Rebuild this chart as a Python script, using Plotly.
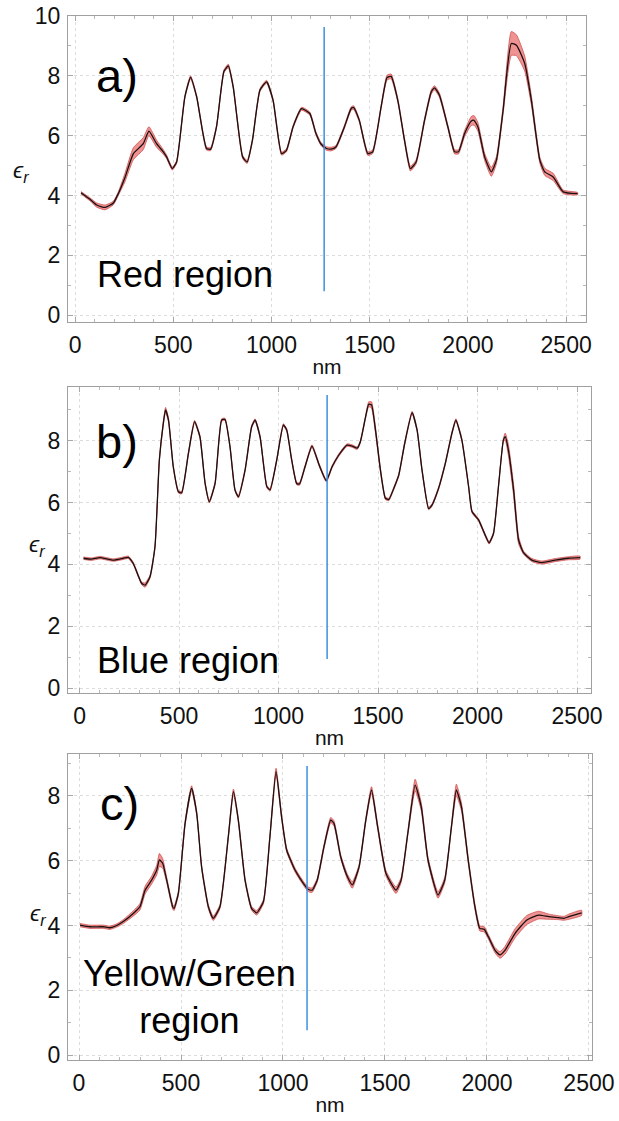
import plotly.graph_objects as go

W, H = 619, 1121

# ---------------- data ----------------
nm_a = [30, 76, 110, 153, 195, 220, 254, 297, 347, 376, 415, 449, 466, 495, 517, 559, 588, 619,
        669, 690, 720, 758, 780, 805, 853, 876, 903, 941, 975, 1008, 1051, 1076, 1110, 1153, 1195,
        1225, 1252, 1280, 1303, 1328, 1371, 1405, 1418, 1447, 1490, 1515, 1558, 1588, 1609, 1643,
        1677, 1707, 1736, 1779, 1813, 1830, 1855, 1898, 1932, 1952, 1983, 2017, 2031, 2051, 2085,
        2119, 2145, 2179, 2221, 2247, 2289, 2323, 2366, 2391, 2434, 2485, 2558]
eps_a = [4.09, 3.87, 3.68, 3.6, 3.75, 4.06, 4.6, 5.4, 5.73, 6.15, 5.73, 5.46, 5.29, 4.9, 5.12, 7.3, 7.95, 7.3,
         5.57, 5.55, 6.3, 8.15, 8.33, 7.63, 5.29, 5.12, 5.85, 7.52, 7.8, 7.18, 5.4, 5.51, 6.3, 6.9, 6.74,
         6.1, 5.72, 5.57, 5.55, 5.62, 6.29, 6.9, 6.94, 6.51, 5.4, 5.46, 6.96, 7.94, 7.98, 7.18,
         5.85, 4.9, 5.12, 6.51, 7.46, 7.6, 7.35, 6.29, 5.46, 5.46, 6.07, 6.49, 6.51, 6.29, 5.29,
         4.79, 5.18, 6.85, 9.08, 9.02, 8.41, 7.18, 5.18, 4.79, 4.62, 4.12, 4.06]
err_a = [0.04, 0.05, 0.07, 0.08, 0.06, 0.06, 0.14, 0.2, 0.2, 0.15, 0.12, 0.08, 0.06, 0.05, 0.05, 0.04, 0.05, 0.04,
         0.05, 0.05, 0.04, 0.05, 0.06, 0.05, 0.05, 0.05, 0.04, 0.05, 0.05, 0.05, 0.05, 0.05, 0.04, 0.05, 0.05,
         0.05, 0.05, 0.06, 0.06, 0.05, 0.05, 0.06, 0.06, 0.05, 0.06, 0.06, 0.05, 0.08, 0.08, 0.06,
         0.06, 0.08, 0.07, 0.06, 0.07, 0.07, 0.07, 0.06, 0.07, 0.07, 0.1, 0.15, 0.16, 0.14, 0.12,
         0.15, 0.12, 0.12, 0.4, 0.35, 0.25, 0.15, 0.1, 0.12, 0.12, 0.06, 0.04]

nm_b = [20, 60, 103, 170, 220, 245, 270, 312, 329, 354, 379, 401, 421, 432, 447, 471, 497, 513, 547, 578,
        605, 631, 652, 681, 714, 731, 756, 781, 798, 832, 865, 882, 907, 941, 957, 991, 1024, 1041, 1066,
        1091, 1105, 1133, 1168, 1205, 1240, 1269, 1303, 1344, 1370, 1395, 1411, 1436, 1453, 1467, 1487,
        1512, 1537, 1554, 1579, 1604, 1634, 1671, 1696, 1721, 1754, 1771, 1804, 1838, 1871, 1891, 1921,
        1955, 1972, 2005, 2038, 2058, 2080, 2105, 2130, 2139, 2155, 2181, 2206, 2231, 2273, 2323, 2390,
        2457, 2515]
eps_b = [4.2, 4.17, 4.22, 4.14, 4.2, 4.23, 4.03, 3.39, 3.33, 3.6, 4.57, 7.38, 8.57, 9.0, 8.67, 7.16, 6.35, 6.32,
         7.59, 8.62, 8.13, 6.62, 6.03, 6.62, 8.67, 8.69, 7.81, 6.41, 6.19, 7.06, 8.46, 8.67, 8.13, 6.52, 6.41,
         7.38, 8.51, 8.35, 7.38, 6.62, 6.6, 7.16, 7.83, 7.2, 6.71, 7.16, 7.54, 7.86, 7.83, 7.76, 7.97, 8.73,
         9.18, 9.16, 8.35, 7.05, 6.14, 6.1, 6.46, 6.89, 7.92, 8.91, 8.35, 7.05, 5.81, 5.92, 6.46, 7.27, 8.24,
         8.67, 8.03, 6.52, 5.71, 5.44, 4.95, 4.7, 5.0, 6.52, 8.03, 8.13, 7.7, 6.41, 4.79, 4.38, 4.14, 4.06,
         4.14, 4.2, 4.22]
err_b = [0.04] * 8 + [0.07, 0.05] + [0.04] * 2 + [0.06, 0.08, 0.06] + [0.04] * 37 + [0.08, 0.1, 0.1, 0.06] \
        + [0.04] * 23 + [0.12, 0.18, 0.18, 0.12] + [0.05] * 9

nm_c = [5, 54, 119, 152, 185, 217, 266, 299, 324, 356, 381, 394, 410, 430, 459, 466, 487, 520, 552, 577,
        601, 634, 658, 691, 732, 757, 781, 814, 846, 871, 904, 936, 966, 993, 1018, 1059, 1100, 1125, 1143,
        1168, 1201, 1234, 1250, 1283, 1316, 1340, 1373, 1406, 1434, 1464, 1505, 1554, 1579, 1612, 1648,
        1678, 1711, 1760, 1793, 1826, 1850, 1875, 1908, 1941, 1965, 1987, 2007, 2039, 2064, 2089, 2138,
        2196, 2253, 2303, 2350, 2377, 2401, 2464]
eps_c = [4.01, 3.96, 3.96, 3.93, 4.0, 4.12, 4.37, 4.58, 5.09, 5.4, 5.71, 6.02, 5.92, 5.4, 4.58, 4.53, 4.99,
         7.15, 8.23, 7.46, 5.81, 4.58, 4.22, 4.58, 6.74, 8.13, 7.25, 5.4, 4.53, 4.39, 4.73, 6.74, 8.75, 7.36,
         6.33, 5.71, 5.3, 5.11, 5.09, 5.4, 6.43, 7.25, 7.15, 6.12, 5.5, 5.25, 5.81, 7.25, 8.18, 7.05, 5.61,
         5.09, 5.4, 6.84, 8.33, 7.66, 6.02, 4.94, 5.4, 7.05, 8.18, 7.66, 6.02, 4.58, 3.91, 3.88, 3.65, 3.24,
         3.09, 3.24, 3.76, 4.17, 4.32, 4.27, 4.24, 4.22, 4.27, 4.39]
err_c = [0.05, 0.05, 0.05, 0.05, 0.05, 0.06, 0.08, 0.1, 0.12, 0.12, 0.15, 0.2, 0.15, 0.08, 0.07, 0.07, 0.06,
         0.06, 0.08, 0.06, 0.05, 0.06, 0.07, 0.06, 0.05, 0.08, 0.06, 0.05, 0.06, 0.07, 0.06, 0.05, 0.1, 0.06,
         0.06, 0.06, 0.06, 0.07, 0.07, 0.06, 0.06, 0.08, 0.08, 0.06, 0.08, 0.1, 0.06, 0.06, 0.1, 0.07, 0.08,
         0.1, 0.08, 0.06, 0.18, 0.12, 0.08, 0.1, 0.08, 0.06, 0.18, 0.12, 0.08, 0.08, 0.08, 0.08, 0.07, 0.08,
         0.1, 0.12, 0.14, 0.14, 0.12, 0.08, 0.06, 0.06, 0.08, 0.08]

marker_nm = [1268, 1244, 1118]
marker_lo = [0.8, 0.94, 0.77]
marker_hi = [9.63, 9.48, 8.92]

panel_letters = ["a)", "b)", "c)"]
region_names = ["Red region", "Blue region", "Yellow/Green<br>region"]
x_title = "nm"
y_title = "ϵ<sub>r</sub>"
x_ticks = [0, 500, 1000, 1500, 2000, 2500]
y_ticks_a = [0, 2, 4, 6, 8, 10]
y_ticks_bc = [0, 2, 4, 6, 8]

# ---------------- layout geometry (pixels) ----------------
frames = [  # left, top, right, bottom
    (68, 16, 586, 322),
    (68, 387, 591, 693),
    (68, 754, 592, 1060),
]
x_ranges = [[-36, 2601], [-58, 2570], [-54, 2515]]
y_ranges = [[-0.23, 10.0], [-0.16, 9.74], [-0.15, 9.29]]

FONT = "Liberation Sans, Arial, sans-serif"

fig = go.Figure()
datasets = [(nm_a, eps_a, err_a), (nm_b, eps_b, err_b), (nm_c, eps_c, err_c)]

for i, (xs, ys, es) in enumerate(datasets):
    xa = "x" if i == 0 else f"x{i+1}"
    ya = "y" if i == 0 else f"y{i+1}"
    up = [y + e for y, e in zip(ys, es)]
    lo = [y - e for y, e in zip(ys, es)]
    fig.add_trace(go.Scatter(
        x=xs + xs[::-1], y=up + lo[::-1], xaxis=xa, yaxis=ya,
        fill="toself", fillcolor="rgba(232,110,110,0.75)",
        line=dict(color="rgba(205,70,70,0.9)", width=0.8, shape="spline", smoothing=0.5),
        mode="lines", hoverinfo="skip", showlegend=False))
    fig.add_trace(go.Scatter(
        x=xs, y=ys, xaxis=xa, yaxis=ya, mode="lines",
        line=dict(color="#1b1010", width=1.3, shape="spline", smoothing=0.5),
        showlegend=False))
    fig.add_trace(go.Scatter(
        x=[marker_nm[i], marker_nm[i]], y=[marker_lo[i], marker_hi[i]], xaxis=xa, yaxis=ya,
        mode="lines", line=dict(color="#3d8fe0", width=1.5), showlegend=False))

    l, t, r, b = frames[i]
    common = dict(showline=True, linecolor="#a0a0a0", linewidth=1, mirror="allticks",
                  ticks="inside", ticklen=5, tickcolor="#a8a8a8", automargin=False,
                  showgrid=True, gridcolor="#dcdcdc", griddash="dot", gridwidth=1,
                  zeroline=False, tickfont=dict(family=FONT, size=23, color="#111"))
    xkey = "xaxis" if i == 0 else f"xaxis{i+1}"
    ykey = "yaxis" if i == 0 else f"yaxis{i+1}"
    fig.update_layout(**{
        xkey: dict(domain=[l / W, r / W], range=x_ranges[i], anchor=ya,
                   tickvals=x_ticks, ticklabelstandoff=2,
                   title=dict(text=x_title, standoff=2,
                              font=dict(family=FONT, size=21, color="#111")),
                   minor=dict(dtick=100, tick0=0, ticks="inside", ticklen=3, tickcolor="#b8b8b8",
                              showgrid=False),
                   **common),
        ykey: dict(domain=[1 - b / H, 1 - t / H], range=y_ranges[i], anchor=xa,
                   tickvals=y_ticks_a if i == 0 else y_ticks_bc, ticklabelstandoff=2,
                   minor=dict(dtick=1, tick0=0, ticks="inside", ticklen=3, tickcolor="#b8b8b8",
                              showgrid=False),
                   **common),
    })

def px(x, y):
    return x / W, 1 - y / H

annotations = []
letter_pos = [(117, 75), (117, 442), (119, 803)]
region_pos = [(185, 274), (188, 660), (190, 997)]
eps_pos = [(21, 172), (37, 546), (38, 915)]
for i in range(3):
    x, y = px(*letter_pos[i])
    annotations.append(dict(x=x, y=y, xref="paper", yref="paper", text=panel_letters[i],
                            showarrow=False, xanchor="center", yanchor="middle",
                            font=dict(family=FONT, size=47, color="#000")))
    x, y = px(*region_pos[i])
    annotations.append(dict(x=x, y=y, xref="paper", yref="paper", text=region_names[i],
                            showarrow=False, xanchor="center", yanchor="middle",
                            font=dict(family=FONT, size=36, color="#000")))
    x, y = px(*eps_pos[i])
    annotations.append(dict(x=x, y=y, xref="paper", yref="paper",
                            text=y_title,
                            showarrow=False, xanchor="center", yanchor="middle",
                            font=dict(family=FONT, size=23, color="#111", style="italic")))

fig.update_layout(width=W, height=H, margin=dict(l=0, r=0, t=0, b=0, autoexpand=False),
                  paper_bgcolor="white", plot_bgcolor="white",
                  annotations=annotations, showlegend=False)

fig.write_html("out.html", config={"displayModeBar": False},
               post_script="document.body.style.margin='0';document.body.style.overflow='hidden';")
